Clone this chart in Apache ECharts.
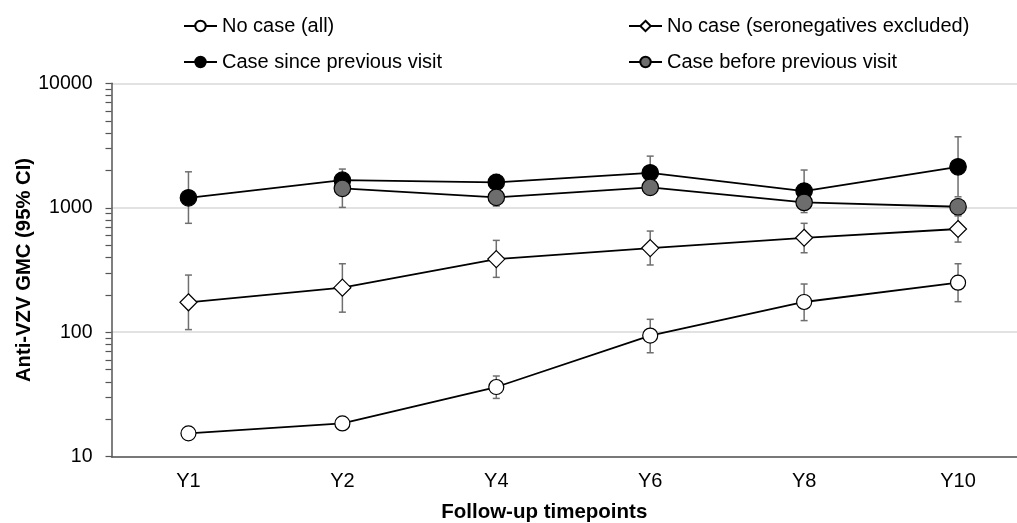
<!DOCTYPE html>
<html>
<head>
<meta charset="utf-8">
<script src="https://cdn.jsdelivr.net/npm/echarts@6/dist/echarts.min.js"></script>
<style>
  html, body { margin: 0; padding: 0; background: #fff; }
  #chart { width: 1017px; height: 523px; }
</style>
</head>
<body>
<div id="chart"></div>
<script>
// categories on the x axis
const timepoints = ['Y1', 'Y2', 'Y4', 'Y6', 'Y8', 'Y10']

// GMC values, with 95% CI bounds
const noCaseAll = [15.4, 18.5, 36.3, 94, 175, 250]
const noCaseAllLow = [14.3, 17.2, 29.4, 68.4, 124, 176]
const noCaseAllHigh = [16.6, 19.9, 44.5, 127, 244, 355]

const noCaseSero = [174, 228, 387, 474, 574, 675]
const noCaseSeroLow = [105, 145, 276, 347, 435, 530]
const noCaseSeroHigh = [288, 355, 547, 650, 750, 860]

const caseSince = [1203, 1667, 1600, 1910, 1362, 2134]
const caseSinceLow = [750, 1350, 1400, 1650, 1000, 1225]
const caseSinceHigh = [1945, 2046, 1850, 2600, 2010, 3717]

const caseBefore = [null, 1432, 1213, 1460, 1105, 1019]
const caseBeforeLow = [null, 1007, 1032, 1300, 915, 880]
const caseBeforeHigh = [null, 1600, 1380, 1650, 1270, 1170]

// y axis ticks (major + minor, log positions) and labels
const yTicks = [10, 20, 30, 40, 50, 60, 70, 80, 90,
  100, 200, 300, 400, 500, 600, 700, 800, 900,
  1000, 2000, 3000, 4000, 5000, 6000, 7000, 8000, 9000, 10000]
const yLabels = [10, 100, 1000, 10000]

const font = 'Liberation Sans, Arial, sans-serif'

const errorSeries = (low, high) => {
  const data = []
  low.forEach((v, i) => {
    if (v != null && high[i] != null) data.push([i, v, high[i]])
  })
  return {
    type: 'custom',
    z: 1,
    silent: true,
    encode: { x: 0, y: [1, 2] },
    renderItem: (params, api) => {
      const lo = api.coord([api.value(0), api.value(1)])
      const hi = api.coord([api.value(0), api.value(2)])
      const cap = 3.5
      const style = { stroke: '#6f6f6f', lineWidth: 1.5 }
      return {
        type: 'group',
        children: [
          { type: 'line', shape: { x1: lo[0], y1: lo[1], x2: hi[0], y2: hi[1] }, style },
          { type: 'line', shape: { x1: lo[0] - cap, y1: lo[1], x2: lo[0] + cap, y2: lo[1] }, style },
          { type: 'line', shape: { x1: hi[0] - cap, y1: hi[1], x2: hi[0] + cap, y2: hi[1] }, style }
        ]
      }
    },
    data: data
  }
}

const lineSeries = (name, data, symbol, size, fill) => ({
  name: name,
  type: 'line',
  z: 2,
  data: data,
  symbol: symbol,
  symbolSize: size,
  showAllSymbol: true,
  connectNulls: false,
  lineStyle: { color: '#000', width: 1.8 },
  itemStyle: { color: fill, borderColor: '#000', borderWidth: 1.2 }
})

const legendItem = (name, left, top) => ({
  data: [name],
  left: left,
  top: top,
  padding: 0,
  itemWidth: 33,
  itemHeight: 13,
  textStyle: { color: '#000', fontSize: 20, fontFamily: font }
})

const option = {
  animation: false,
  backgroundColor: '#fff',
  textStyle: { fontFamily: font },
  legend: [
    legendItem('No case (all)', 183, 16),
    legendItem('No case (seronegatives excluded)', 628, 16),
    legendItem('Case since previous visit', 183, 52),
    legendItem('Case before previous visit', 628, 52)
  ],
  grid: {
    left: 111.5,
    right: -18,
    top: 83.3,
    bottom: 66.3,
    outerBoundsMode: 'none'
  },
  xAxis: {
    type: 'category',
    data: timepoints,
    boundaryGap: true,
    name: 'Follow-up timepoints',
    nameLocation: 'middle',
    nameGap: 45,
    nameMoveOverlap: false,
    nameTextStyle: {
      color: '#000', fontSize: 20.5, fontWeight: 'bold', fontFamily: font,
      padding: [0, 58, 0, 0]
    },
    axisLine: { lineStyle: { color: '#555', width: 1.5 } },
    axisTick: { show: false },
    axisLabel: { color: '#000', fontSize: 20, fontFamily: font, margin: 15 },
    splitLine: { show: false }
  },
  yAxis: [
    {
      type: 'log',
      logBase: 10,
      min: 10,
      max: 10000,
      name: 'Anti-VZV GMC (95% CI)',
      nameLocation: 'middle',
      nameGap: 77,
      nameMoveOverlap: false,
      nameTextStyle: { color: '#000', fontSize: 20.3, fontWeight: 'bold', fontFamily: font },
      axisLine: { show: true, lineStyle: { color: '#555', width: 1.5 } },
      axisTick: { show: true, inside: false, length: 6, customValues: yTicks, lineStyle: { color: '#555', width: 1.2 } },
      axisLabel: {
        color: '#000', fontSize: 19.5, fontFamily: font, margin: 19,
        customValues: yLabels,
        formatter: (v) => String(v)
      },
      splitLine: { show: false }
    },
    {
      type: 'log',
      logBase: 10,
      min: 10,
      max: 10000,
      position: 'left',
      axisLine: { show: false },
      axisTick: { show: false },
      axisLabel: { show: false },
      splitLine: { show: true, lineStyle: { color: '#d9d9d9', width: 1.5 } }
    }
  ],
  series: [
    errorSeries(noCaseAllLow, noCaseAllHigh),
    errorSeries(noCaseSeroLow, noCaseSeroHigh),
    errorSeries(caseSinceLow, caseSinceHigh),
    errorSeries(caseBeforeLow, caseBeforeHigh),
    lineSeries('No case (all)', noCaseAll, 'circle', 15, '#fff'),
    lineSeries('No case (seronegatives excluded)', noCaseSero, 'diamond', 17, '#fff'),
    lineSeries('Case since previous visit', caseSince, 'circle', 16.5, '#000'),
    lineSeries('Case before previous visit', caseBefore, 'circle', 16.5, '#6d6d6d')
  ]
}

const myChart = echarts.init(document.getElementById('chart'))
myChart.setOption(option)
</script>
</body>
</html>
